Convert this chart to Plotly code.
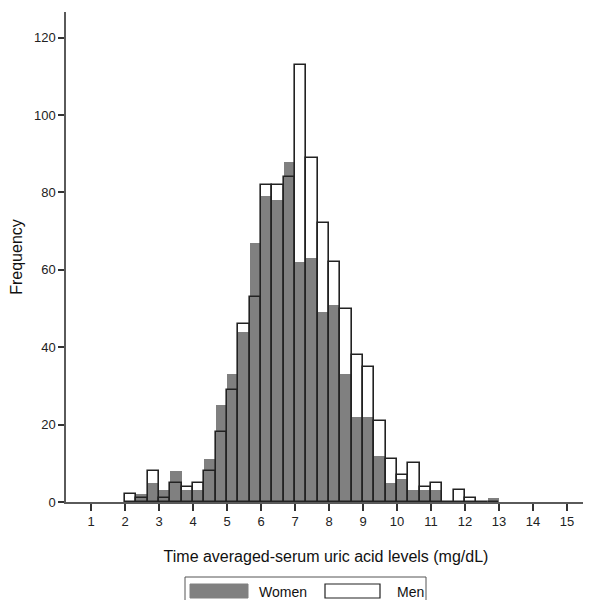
import plotly.graph_objects as go

# histogram bins: width 1/3 mg/dL, first bin starts at 2
bin_start = 2.0
bin_width = 1 / 3

# counts per bin (2.00-2.33, 2.33-2.67, ... 12.67-13.00)
men = [2, 1, 8, 1, 5, 4, 5, 8, 18, 29, 46, 53, 82, 82, 84, 113, 89, 72, 62, 50,
       38, 35, 21, 11, 7, 10, 4, 5, 0, 3, 1, 0, 0]
women = [0, 2, 5, 3, 8, 3, 3, 11, 25, 33, 44, 67, 79, 78, 88, 62, 63, 49, 51, 33,
         22, 22, 12, 5, 6, 3, 3, 3, 0, 0, 0, 0, 1]

x_ticks = list(range(1, 16))
y_ticks = [0, 20, 40, 60, 80, 100, 120]

GRAY = "#808080"
AXIS = "#5a5a5a"
FONT = "Liberation Sans, Arial, sans-serif"

fig = go.Figure()

fig.add_trace(go.Bar(
    y=women, x0=bin_start + bin_width / 2, dx=bin_width, width=bin_width,
    marker=dict(color=GRAY, line=dict(width=0)),
    name="Women", showlegend=False,
))
fig.add_trace(go.Bar(
    y=men, x0=bin_start + bin_width / 2, dx=bin_width, width=bin_width,
    marker=dict(color="rgba(0,0,0,0)", line=dict(color="#222222", width=1.6)),
    name="Men", showlegend=False,
))

# page has an 8px body margin; plot area on the page: x 66..586, y 12..502
OFF = 8
W, H = 591 - OFF, 600 - OFF
L, R, T, B = 66 - OFF, 5, 12 - OFF, 98
pw, ph = W - L - R, H - T - B


def px(x):
    return (x - OFF - L) / pw


def py(y):
    return (H - B - (y - OFF)) / ph


# legend drawn by hand so the swatches are wide like the original
fig.add_shape(type="rect", xref="paper", yref="paper",
              x0=px(185), x1=px(426), y0=py(605), y1=py(577),
              line=dict(color="#555555", width=1), fillcolor="white")
fig.add_shape(type="rect", xref="paper", yref="paper",
              x0=px(190), x1=px(248), y0=py(598), y1=py(584),
              line=dict(color=GRAY, width=1), fillcolor=GRAY)
fig.add_shape(type="rect", xref="paper", yref="paper",
              x0=px(325), x1=px(380), y0=py(598), y1=py(584),
              line=dict(color="#222222", width=1.2), fillcolor="white")
fig.add_annotation(xref="paper", yref="paper", x=px(257), y=py(592),
                   text="Women", showarrow=False, xanchor="left", yanchor="middle",
                   font=dict(size=14, color="#111111", family=FONT))
fig.add_annotation(xref="paper", yref="paper", x=px(395), y=py(592),
                   text="Men", showarrow=False, xanchor="left", yanchor="middle",
                   font=dict(size=14, color="#111111", family=FONT))

fig.update_xaxes(
    range=[1 - 25 / 34, 1 + (586 - 91) / 34],
    tickvals=x_ticks, ticktext=[str(v) for v in x_ticks],
    showline=True, linecolor=AXIS, linewidth=1.5,
    ticks="outside", ticklen=7, tickwidth=1.5, tickcolor="#333333",
    showgrid=False, zeroline=False,
    tickfont=dict(size=13, color="#222222", family=FONT),
    title=dict(text="Time averaged-serum uric acid levels (mg/dL)",
               font=dict(size=16, color="#111111", family=FONT), standoff=22),
)
fig.update_yaxes(
    range=[0, (501.7 - 12) / 3.867],
    tickvals=y_ticks, ticktext=[str(v) for v in y_ticks],
    showline=True, linecolor=AXIS, linewidth=1.5,
    ticks="outside", ticklen=6, tickwidth=1.5, tickcolor="#333333",
    showgrid=False, zeroline=False,
    tickfont=dict(size=13, color="#222222", family=FONT),
    title=dict(text="Frequency", font=dict(size=16, color="#111111", family=FONT),
               standoff=8),
)

fig.update_layout(
    width=W, height=H,
    barmode="overlay", bargap=0,
    plot_bgcolor="white", paper_bgcolor="white",
    margin=dict(l=L, r=R, t=T, b=B),
    font=dict(family=FONT),
)

fig.write_html("out.html")
